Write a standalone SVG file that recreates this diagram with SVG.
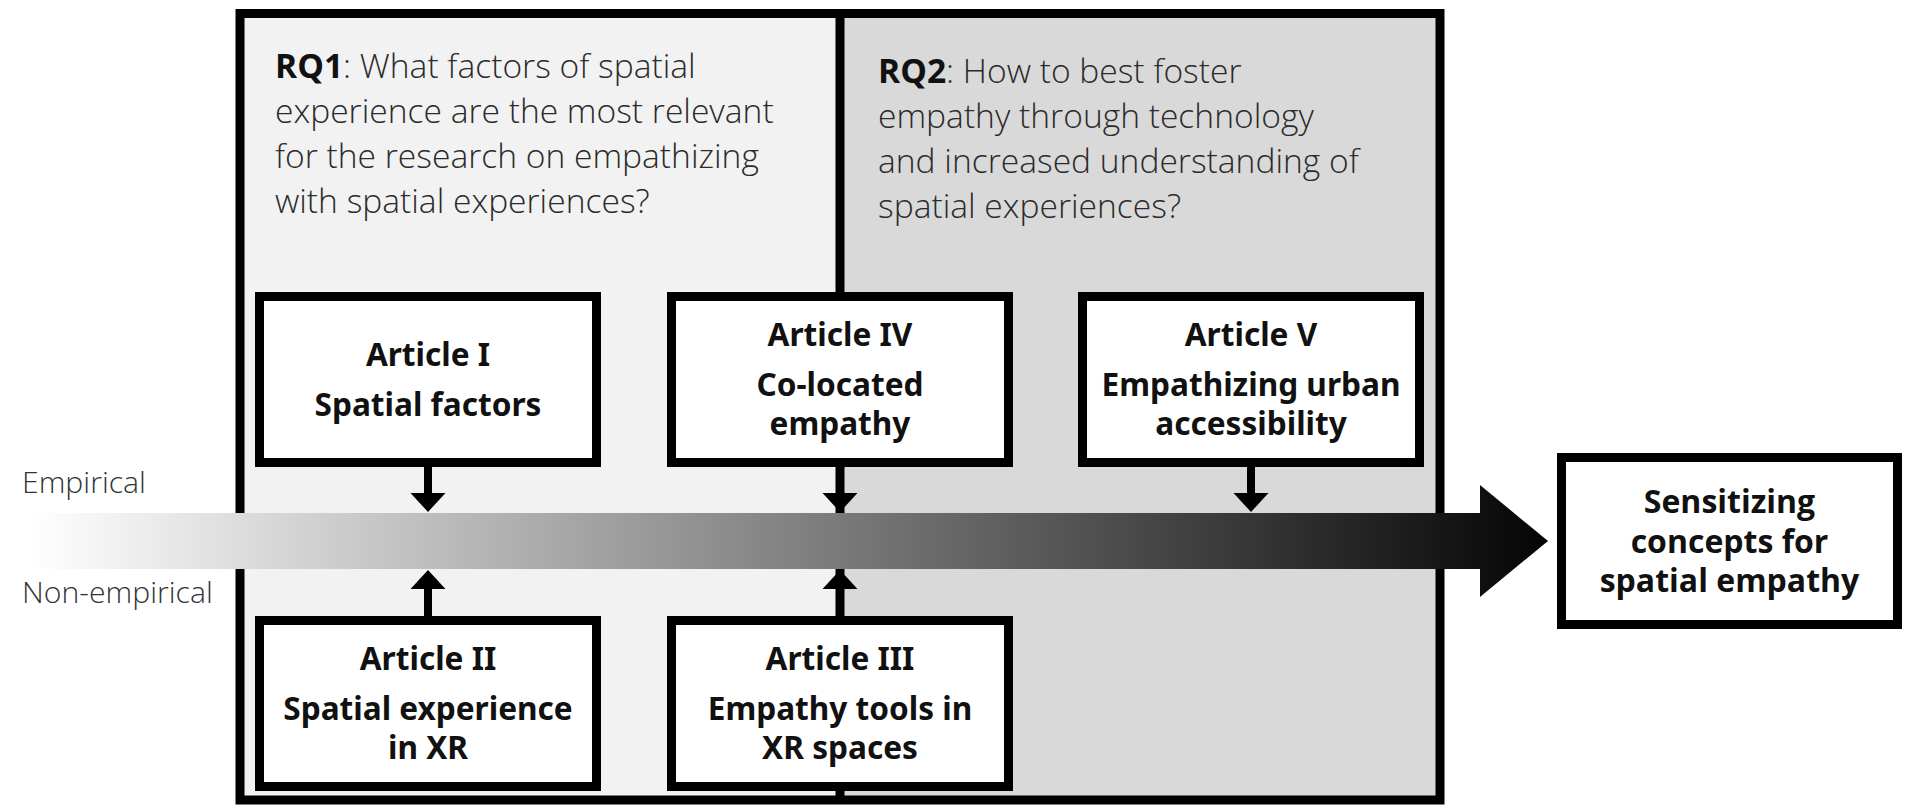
<svg xmlns="http://www.w3.org/2000/svg" width="1910" height="805" viewBox="0 0 1910 805">
<style>
.rq{font-family:"Open Sans","Liberation Sans",sans-serif;font-weight:300;font-size:33.6px;fill:#2b2b2b}
.rq tspan.b{font-weight:700;fill:#111}
.side{font-family:"Open Sans","Liberation Sans",sans-serif;font-weight:300;font-size:30.2px;fill:#333}
.box{fill:#fff;stroke:#000;stroke-width:9}
.lbl{font-family:"Noto Sans","Open Sans","Liberation Sans",sans-serif;font-weight:700;font-size:31.6px;fill:#111;text-anchor:middle}
.out{font-family:"Open Sans","Liberation Sans",sans-serif;font-weight:700;font-size:32px;fill:#111;text-anchor:middle}
.arr{fill:#000}
</style>
<defs>
<linearGradient id="band" gradientUnits="userSpaceOnUse" x1="30" y1="0" x2="1548" y2="0">
<stop offset="0" stop-color="#ffffff"/>
<stop offset="1" stop-color="#050505"/>
</linearGradient>
</defs>
<g id="frame">
<rect x="240" y="13.5" width="600" height="786.5" fill="#f2f2f2"/>
<rect x="840" y="13.5" width="600" height="786.5" fill="#d9d9d9"/>
<rect x="240" y="13.5" width="1200" height="786.5" fill="none" stroke="#000" stroke-width="9"/>
<line x1="840" y1="13.5" x2="840" y2="800" stroke="#000" stroke-width="9"/>
</g>
<g id="rq1">
<text class="rq" x="275" y="78"><tspan class="b">RQ1</tspan>: What factors of spatial</text>
<text class="rq" x="275" y="123">experience are the most relevant</text>
<text class="rq" x="275" y="168">for the research on empathizing</text>
<text class="rq" x="275" y="213">with spatial experiences?</text>
</g>
<g id="rq2">
<text class="rq" x="878" y="83"><tspan class="b">RQ2</tspan>: How to best foster</text>
<text class="rq" x="878" y="128">empathy through technology</text>
<text class="rq" x="878" y="173">and increased understanding of</text>
<text class="rq" x="878" y="218">spatial experiences?</text>
</g>
<g id="axis-labels">
<text class="side" x="22" y="493">Empirical</text>
<text class="side" x="22" y="603">Non-empirical</text>
</g>
<g id="band-arrow">
<path d="M30,513 L1480,513 L1480,485 L1548,541 L1480,597 L1480,569 L30,569 Z" fill="url(#band)"/>
</g>
<g id="connectors">
<path class="arr" d="M424,467 h8 v26 h13.5 L428,512 L410.5,493 H424 Z"/>
<path class="arr" d="M836,467 h8 v26 h13.5 L840,512 L822.5,493 H836 Z"/>
<path class="arr" d="M1247,467 h8 v26 h13.5 L1251,512 L1233.5,493 H1247 Z"/>
<path class="arr" d="M424,616 h8 v-27 h13.5 L428,570 L410.5,589 H424 Z"/>
<path class="arr" d="M836,616 h8 v-27 h13.5 L840,570 L822.5,589 H836 Z"/>
</g>
<g id="article1">
<rect class="box" x="259.5" y="296.5" width="337" height="166"/>
<text class="lbl" x="428" y="366">Article I</text>
<text class="lbl" x="428" y="416">Spatial factors</text>
</g>
<g id="article4">
<rect class="box" x="671.5" y="296.5" width="337" height="166"/>
<text class="lbl" x="840" y="346">Article IV</text>
<text class="lbl" x="840" y="396">Co-located</text>
<text class="lbl" x="840" y="435">empathy</text>
</g>
<g id="article5">
<rect class="box" x="1082.5" y="296.5" width="337" height="166"/>
<text class="lbl" x="1251" y="346">Article V</text>
<text class="lbl" x="1251" y="396">Empathizing urban</text>
<text class="lbl" x="1251" y="435">accessibility</text>
</g>
<g id="article2">
<rect class="box" x="259.5" y="620.5" width="337" height="166"/>
<text class="lbl" x="428" y="670">Article II</text>
<text class="lbl" x="428" y="720">Spatial experience</text>
<text class="lbl" x="428" y="759">in XR</text>
</g>
<g id="article3">
<rect class="box" x="671.5" y="620.5" width="337" height="166"/>
<text class="lbl" x="840" y="670">Article III</text>
<text class="lbl" x="840" y="720">Empathy tools in</text>
<text class="lbl" x="840" y="759">XR spaces</text>
</g>
<g id="outcome">
<rect class="box" x="1561.5" y="457.5" width="336" height="167"/>
<text class="out" x="1729.5" y="513">Sensitizing</text>
<text class="out" x="1729.5" y="552.5">concepts for</text>
<text class="out" x="1729.5" y="592">spatial empathy</text>
</g>
</svg>
